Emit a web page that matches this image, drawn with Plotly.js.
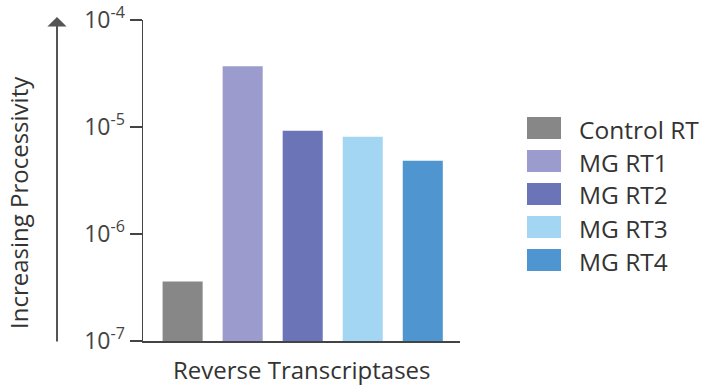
<!DOCTYPE html>
<html>
<head>
<meta charset="utf-8">
<script src="https://cdn.plot.ly/plotly-3.0.1.min.js"></script>
<style>html,body{margin:0;padding:0;background:#fff;}#chart{width:704px;height:390px;}</style>
</head>
<body>
<div id="chart"></div>
<script>
const categories = ["Control RT", "MG RT1", "MG RT2", "MG RT3", "MG RT4"];
const values = [3.6e-7, 3.7e-5, 9.2e-6, 8.1e-6, 4.85e-6];
const colors = ["#878787", "#9c9bcd", "#6b74b7", "#a3d6f2", "#4f95d0"];
const tickVals = [1e-7, 1e-6, 1e-5, 1e-4];
const tickText = ["10<sup>-7</sup>", "10<sup>-6</sup>", "10<sup>-5</sup>", "10<sup>-4</sup>"];
const yTitle = "Increasing Processivity";
const xTitle = "Reverse Transcriptases";

const W = 704, H = 390;
const M = {l: 143, r: 244, t: 20, b: 49};
const plotW = W - M.l - M.r, plotH = H - M.t - M.b;
const px = x => (x - M.l) / plotW;
const py = y => (H - M.b - y) / plotH;
const FONT = "'Open Sans', Lato, sans-serif";
const TXT = "#333";

const trace = {
  type: "bar",
  x: categories.map((c, i) => i),
  y: values,
  marker: {color: colors},
  width: 0.667,
  showlegend: false,
  hoverinfo: "skip"
};

const shapes = [];
const annotations = [];
categories.forEach((c, i) => {
  const top = 117 + i * 33;
  shapes.push({type: "rect", xref: "paper", yref: "paper",
    x0: px(527), x1: px(561), y0: py(top + 22), y1: py(top),
    fillcolor: colors[i], line: {width: 0}});
  annotations.push({xref: "paper", yref: "paper", x: px(577), y: py(top + 12),
    xanchor: "left", yanchor: "middle", showarrow: false, text: c,
    font: {family: FONT, size: 24.5, color: TXT}});
});
annotations.push({xref: "paper", yref: "paper", x: px(19), y: py(203),
  text: yTitle, textangle: -90, showarrow: false, xanchor: "center", yanchor: "middle",
  font: {family: FONT, size: 24, color: TXT}});
annotations.push({xref: "paper", yref: "paper", x: px(57), y: py(17),
  text: "", showarrow: true, ax: 0, ay: 326, axref: "pixel", ayref: "pixel",
  arrowhead: 1, arrowsize: 1.6, arrowwidth: 2, arrowcolor: "#555"});
annotations.push({xref: "paper", yref: "paper", x: px(302), y: py(370),
  text: xTitle, showarrow: false, xanchor: "center", yanchor: "middle",
  font: {family: FONT, size: 24, color: TXT}});

const layout = {
  width: W, height: H,
  margin: M,
  paper_bgcolor: "#fff", plot_bgcolor: "#fff",
  font: {family: FONT, color: TXT},
  xaxis: {
    range: [-0.66, 4.62], showticklabels: false, ticks: "", showgrid: false, zeroline: false,
    showline: true, linecolor: "#444", linewidth: 1.5
  },
  yaxis: {
    type: "log", range: [-7, -4], tickvals: tickVals, ticktext: tickText,
    ticks: "outside", ticklen: 12, tickwidth: 1.5, tickcolor: "#444",
    showgrid: false, zeroline: false, showline: true, linecolor: "#444", linewidth: 1.5,
    tickfont: {family: FONT, size: 23, color: "#444"}
  },
  shapes: shapes,
  annotations: annotations,
  showlegend: false
};

Plotly.newPlot("chart", [trace], layout, {staticPlot: true, displayModeBar: false});
</script>
</body>
</html>
